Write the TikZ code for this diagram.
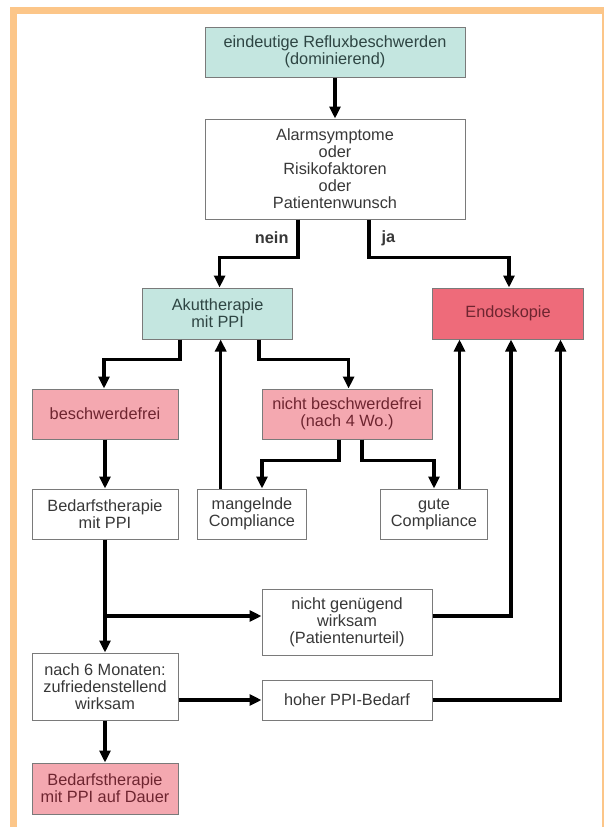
\documentclass[tikz,border=0pt]{standalone}
\usepackage{fontspec}
\setmainfont{Liberation Sans}
\usetikzlibrary{positioning, calc, arrows.meta}
\definecolor{framecol}{HTML}{FCC689}
\definecolor{tealfill}{HTML}{C4E6E0}
\definecolor{tealtext}{HTML}{2E4543}
\definecolor{pinkfill}{HTML}{F4A8B0}
\definecolor{redfill}{HTML}{EE6B7A}
\definecolor{redtext}{HTML}{6E2530}
\definecolor{boxline}{HTML}{7A7A7A}
\definecolor{greytext}{HTML}{383838}

\begin{document}
\begin{tikzpicture}[x=1pt, y=-1pt, >={Triangle[length=12pt,width=11pt]},
  box/.style={draw=boxline, line width=1pt, align=center, inner sep=0pt,
    text=greytext, fill=white, font=\fontsize{16.3}{17}\selectfont},
  tealbox/.style={box, fill=tealfill, text=tealtext},
  pinkbox/.style={box, fill=pinkfill, text=redtext},
  redbox/.style={box, fill=redfill, text=redtext},
  flow/.style={->, line width=3.5pt, black},
  lab/.style={font=\bfseries\fontsize{16.3}{17}\selectfont, text=greytext}]
\useasboundingbox (0,0) rectangle (604,827);
\fill[white] (0,0) rectangle (604,827);
\draw[framecol, line width=7pt] (13.5,827) -- (13.5,10) -- (605,10) -- (605,827);

% boxes
\node[tealbox, minimum width=260pt, minimum height=50pt] (reflux) at (335,52)
  {eindeutige Refluxbeschwerden\\(dominierend)};
\node[box, minimum width=260pt, minimum height=100pt] (alarm) at (335,169)
  {Alarmsymptome\\oder\\Risikofaktoren\\oder\\Patientenwunsch};
\node[tealbox, minimum width=150pt, minimum height=51pt] (akut) at (217.6,313.5)
  {Akuttherapie\\mit PPI};
\node[redbox, minimum width=151pt, minimum height=51pt] (endo) at (508,313.5)
  {Endoskopie};
\node[pinkbox, minimum width=146pt, minimum height=50pt] (bfrei) at (105,414)
  {beschwerdefrei};
\node[pinkbox, minimum width=170pt, minimum height=50pt] (nbfrei) at (347,414)
  {nicht beschwerdefrei\\(nach 4 Wo.)};
\node[box, minimum width=146pt, minimum height=50pt] (bedarf) at (105,514)
  {Bedarfstherapie\\mit PPI};
\node[box, minimum width=108.6pt, minimum height=50pt] (mangel) at (252,514)
  {mangelnde\\Compliance};
\node[box, minimum width=106.7pt, minimum height=50pt] (gute) at (434,514)
  {gute\\Compliance};
\node[box, minimum width=170pt, minimum height=66pt] (nichtgen) at (347,622)
  {nicht genügend\\wirksam\\(Patientenurteil)};
\node[box, minimum width=146pt, minimum height=67pt] (sechs) at (105,686.5)
  {nach 6 Monaten:\\zufriedenstellend\\wirksam};
\node[box, minimum width=170pt, minimum height=40pt] (hoher) at (347,700)
  {hoher PPI-Bedarf};
\node[pinkbox, minimum width=146pt, minimum height=51pt] (dauer) at (105,788.5)
  {Bedarfstherapie\\mit PPI auf Dauer};

\node[lab, anchor=east] (nein) at (292,238) {nein};
\node[lab, anchor=west] (ja) at (378,238) {ja};

% connectors
\draw[flow] (reflux) -- (alarm);
\draw[flow] ([xshift=-37pt]alarm.south) -- ++(0,38) -| ([xshift=2pt]akut.north);
\draw[flow] ([xshift=34pt]alarm.south) -- ++(0,38) -| ([xshift=1pt]endo.north);
\draw[flow] ([xshift=-37.6pt]akut.south) -- ++(0,20) -| ([xshift=-1pt]bfrei.north);
\draw[flow] ([xshift=41.6pt]akut.south) -- ++(0,20) -| ([xshift=1.6pt]nbfrei.north);
\draw[flow] ([xshift=-31.3pt]mangel.north) -- ([xshift=-31.3pt]mangel.north |- akut.south);
\draw[flow] ([xshift=-8pt]nbfrei.south) -- ++(0,21) -| ([xshift=10pt]mangel.north);
\draw[flow] ([xshift=15pt]nbfrei.south) -- ++(0,21) -| (gute.north);
\draw[flow] ([xshift=25.5pt]gute.north) -- ([xshift=25.5pt]gute.north |- endo.south);
\draw[flow] (bfrei) -- (bedarf);
\draw[flow] (bedarf) -- (sechs);
\coordinate (ngin) at ([yshift=6pt]nichtgen.west);
\coordinate (ngout) at ([yshift=6pt]nichtgen.east);
\draw[flow] (bedarf.south |- ngin) -- (ngin);
\draw[flow] (ngout) -| ([xshift=3pt]endo.south);
\draw[flow] (sechs.east |- hoher.west) -- (hoher.west);
\draw[flow] (hoher.east) -| ([xshift=52.5pt]endo.south);
\draw[flow] (sechs) -- (dauer);
\end{tikzpicture}
\end{document}
